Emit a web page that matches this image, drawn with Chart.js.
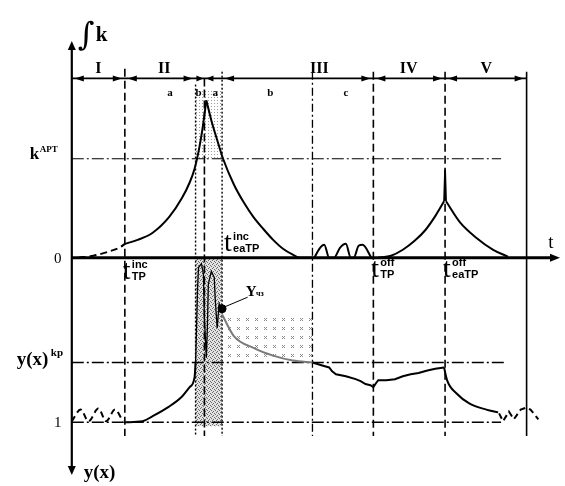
<!DOCTYPE html>
<html>
<head>
<meta charset="utf-8">
<script src="https://cdn.jsdelivr.net/npm/chart.js@4.4.0/dist/chart.umd.min.js"></script>
<style>
  html, body { margin: 0; padding: 0; background: #fff; }
  #wrap { width: 565px; height: 486px; }
</style>
</head>
<body>
<div id="wrap"><canvas id="myChart" width="565" height="486"></canvas></div>
<script>
// stage boundaries on the t axis
const tInc = 1.08, tB = 2.52, tMid = 2.70, tA = 3.06, tC = 4.90, tOff = 6.14, tEaOff = 7.60, tEnd = 9.26;
const kApt = 1;      // k^APT level
const yKp = 0.637;   // y(x)^kp level
const yOne = 1;      // y(x) = 1

// upper curve, integral of k
const kStartT = [0.14, 0.44, 0.74, 1.0, 1.08];
const kStart  = [0, 0.02, 0.06, 0.11, 0.14];
const kRiseT  = [1.08, 1.34, 1.64, 1.98, 2.24, 2.40, 2.50, 2.58, 2.66, 2.74];
const kRise   = [0.14, 0.18, 0.25, 0.41, 0.60, 0.76, 0.90, 1.07, 1.30, 1.59];
const kFallT  = [2.74, 2.84, 2.96, 3.08, 3.30, 3.50, 3.70, 3.90, 4.10, 4.30, 4.50, 4.64, 4.94];
const kFall   = [1.59, 1.39, 1.19, 1.0, 0.74, 0.56, 0.41, 0.29, 0.18, 0.09, 0.03, 0, 0];
const kBumpT  = [4.94, 5.04, 5.14, 5.24, 5.34, 5.46, 5.58, 5.68, 5.74, 5.84, 5.92, 6.10];
const kBump   = [0, 0.09, 0.13, 0, 0, 0.10, 0.14, 0, 0, 0.12, 0.13, 0];
const kOffUpT = [6.24, 6.50, 6.74, 6.98, 7.20, 7.40, 7.58];
const kOffUp  = [0, 0.02, 0.08, 0.17, 0.28, 0.42, 0.57];
const kSpikeT = [7.58, 7.60, 7.62];
const kSpike  = [0.57, 0.89, 0.57];
const kOffDnT = [7.62, 7.90, 8.24, 8.58, 8.88];
const kOffDn  = [0.57, 0.36, 0.20, 0.08, 0.01];

// lower curve, y(x) (axis points down)
const yWaveT  = [0, 0.18, 0.34, 0.54, 0.70, 0.88, 1.04];
const yWave   = [0.994, 0.923, 0.994, 0.917, 0.994, 0.923, 0.994];
const yRiseT  = [1.08, 1.44, 1.64, 1.98, 2.24, 2.40, 2.50, 2.52];
const yRise   = [1.0, 0.994, 0.964, 0.905, 0.845, 0.786, 0.726, 0.637];
const yNoiseT = [2.52, 2.54, 2.56, 2.58, 2.64, 2.68, 2.70, 2.74, 2.76, 2.78, 2.84, 2.90, 2.92, 2.96, 3.00, 3.04];
const yNoise  = [0.637, 0.429, 0.19, 0.06, 0.036, 0.101, 0.369, 0.607, 0.429, 0.161, 0.083, 0.119, 0.25, 0.429, 0.28, 0.31];
const yGreyT  = [3.06, 3.30, 3.70, 4.10, 4.50, 4.90];
const yGrey   = [0.345, 0.476, 0.548, 0.595, 0.625, 0.637];
const yStepT  = [4.90, 5.10, 5.24, 5.30, 5.38, 5.58, 5.78, 5.88, 5.98, 6.08, 6.14, 6.20, 6.24, 6.40, 6.58, 6.74, 6.90, 7.06, 7.24, 7.40, 7.58];
const ySteps  = [0.637, 0.655, 0.667, 0.690, 0.708, 0.720, 0.738, 0.750, 0.768, 0.775, 0.786, 0.760, 0.744, 0.744, 0.738, 0.720, 0.708, 0.700, 0.685, 0.675, 0.667];
const yDropT  = [7.58, 7.64, 7.84, 8.10, 8.44, 8.68];
const yDrop   = [0.667, 0.744, 0.827, 0.887, 0.923, 0.940];
const yTailT  = [8.70, 8.78, 8.90, 9.00, 9.14, 9.24, 9.34, 9.50];
const yTail   = [0.946, 0.994, 0.935, 0.982, 0.923, 0.912, 0.923, 0.982];
const yChzT = 3.06, yChz = 0.31;

// labels
const romanLabels = ['I', 'II', 'III', 'IV', 'V'];
const romanT = [0.54, 1.88, 5.04, 6.86, 8.44];
const subLabels = ['a', 'b', 'a', 'b', 'c'];
const subT = [2.0, 2.58, 2.92, 4.04, 5.58];

function pts(ts, vs) {
    return ts.map((t, i) => ({x: t, y: vs[i]}));
}
function curve(ts, vs, axis, extra) {
    return Object.assign({
        data: pts(ts, vs),
        yAxisID: axis,
        showLine: true,
        borderColor: '#000',
        borderWidth: 2,
        pointRadius: 0,
        tension: 0,
        clip: false
    }, extra || {});
}
const smooth = {cubicInterpolationMode: 'monotone'};

function makePattern(c, size, dots, color, bg) {
    const cv = document.createElement('canvas');
    cv.width = size;
    cv.height = size;
    const g = cv.getContext('2d');
    if (bg) {
        g.fillStyle = bg;
        g.fillRect(0, 0, size, size);
    }
    g.fillStyle = color;
    dots.forEach(d => g.fillRect(d[0], d[1], 1, 1));
    return c.createPattern(cv, 'repeat');
}

function line(c, x1, y1, x2, y2, w, dash, color) {
    c.save();
    c.strokeStyle = color || '#000';
    c.lineWidth = w;
    c.setLineDash(dash || []);
    c.beginPath();
    c.moveTo(x1, y1);
    c.lineTo(x2, y2);
    c.stroke();
    c.restore();
}

function head(c, x, y, dir, len, half) {
    c.beginPath();
    if (dir === 'r') { c.moveTo(x, y); c.lineTo(x - len, y - half); c.lineTo(x - len, y + half); }
    if (dir === 'l') { c.moveTo(x, y); c.lineTo(x + len, y - half); c.lineTo(x + len, y + half); }
    if (dir === 'u') { c.moveTo(x, y); c.lineTo(x - half, y + len); c.lineTo(x + half, y + len); }
    if (dir === 'd') { c.moveTo(x, y); c.lineTo(x - half, y - len); c.lineTo(x + half, y - len); }
    c.closePath();
    c.fill();
}

function txt(c, s, x, y, font, align) {
    c.font = font;
    c.textAlign = align || 'left';
    c.textBaseline = 'alphabetic';
    c.fillText(s, x, y);
}

// t with superscript and subscript
function tLabel(c, x, y, sup, sub) {
    txt(c, 't', x, y, '28px "Liberation Serif"');
    txt(c, sup, x + 9, y - 11, 'bold 11px "Liberation Sans"');
    txt(c, sub, x + 9, y + 1, 'bold 11px "Liberation Sans"');
}

const diagram = {
    id: 'diagram',
    beforeDatasetsDraw(chart) {
        const c = chart.ctx;
        const X = v => chart.scales.x.getPixelForValue(v);
        const K = v => chart.scales.yk.getPixelForValue(v);
        const Y = v => chart.scales.yy.getPixelForValue(v);
        c.save();

        // stippled band in region II b / III a
        c.fillStyle = makePattern(c, 3, [[1, 1]], '#9a9a9a');
        c.fillRect(X(tB), K(1.69), X(tA) - X(tB), K(kApt) - K(1.69));
        c.fillStyle = makePattern(c, 4, [[0, 0], [2, 1], [1, 3], [3, 2]], '#6a6a6a', '#e2e2e2');
        c.fillRect(X(tB), Y(0), X(tA) - X(tB), Y(1.024) - Y(0));

        // dotted hatch area under Y_chz
        c.fillStyle = makePattern(c, 9, [[3, 3], [5, 3], [4, 4], [3, 5], [5, 5]], '#8a8a8a');
        c.fillRect(X(tA), Y(0.357), X(tC) - X(tA), Y(yKp) - Y(0.357));

        // level lines
        const dd = [12, 3, 2, 3];
        line(c, X(0), K(kApt), X(8.74), K(kApt), 1.2, dd);
        line(c, X(0), Y(yKp), X(8.8), Y(yKp), 1.5, dd);
        line(c, X(0), Y(yOne), X(8.74), Y(yOne), 1.5, dd);

        // stage boundaries
        const top = K(1.88), bot = Y(1.083);
        line(c, X(tInc), K(1.91), X(tInc), bot, 1.6, [8, 4]);
        line(c, X(tB), K(1.75), X(tB), bot, 1.4, [2, 2]);
        line(c, X(tMid), K(1.812), X(tMid), bot, 1.6, [8, 3]);
        line(c, X(tA), top, X(tA), bot, 1.4, [2, 2]);
        line(c, X(tC), top, X(tC), bot, 1.3, [8, 3, 2, 3]);
        line(c, X(tOff), top, X(tOff), bot, 1.6, [8, 4]);
        line(c, X(tEaOff), top, X(tEaOff), bot, 1.6, [8, 4]);
        line(c, X(tEnd), top, X(tEnd), bot, 1.6);
        c.restore();
    },
    afterDatasetsDraw(chart) {
        const c = chart.ctx;
        const X = v => chart.scales.x.getPixelForValue(v);
        const K = v => chart.scales.yk.getPixelForValue(v);
        const Y = v => chart.scales.yy.getPixelForValue(v);
        c.save();
        c.fillStyle = '#000';

        // axes
        line(c, X(0), K(2.15), X(0), Y(1.30), 2.2);
        head(c, X(0), K(2.19), 'u', 9, 4);
        head(c, X(0), Y(1.32), 'd', 9, 4);
        line(c, X(0), K(0), X(9.84), K(0), 3);
        head(c, X(9.94), K(0), 'r', 10, 4);

        // stage arrows
        const ay = K(1.812);
        line(c, X(0), ay, X(tEnd), ay, 1.6);
        const segs = [[0, tInc], [tInc, tB], [tA, tOff], [tOff, tEaOff], [tEaOff, tEnd]];
        segs.forEach(s => {
            head(c, X(s[0]) + 3, ay, 'l', 9, 3);
            head(c, X(s[1]) - 3, ay, 'r', 9, 3);
        });
        head(c, X(tMid) - 1, ay, 'r', 7, 3);
        head(c, X(tMid) + 2, ay, 'l', 7, 3);

        romanLabels.forEach((s, i) => txt(c, s, X(romanT[i]), K(1.87), 'bold 16px "Liberation Serif"', 'center'));
        subLabels.forEach((s, i) => txt(c, s, X(subT[i]), K(1.63), 'bold 11px "Liberation Serif"', 'center'));

        // axis captions
        txt(c, '\u222B', X(0) + 6, K(2.15), '32px "DejaVu Serif"');
        txt(c, 'k', X(0) + 24, K(2.19), 'bold 21px "Liberation Serif"');
        txt(c, 't', X(9.7), K(0.1), '19px "Liberation Serif"');
        txt(c, '0', X(0) - 14, K(0) + 5, '15px "Liberation Serif"', 'center');
        txt(c, 'k', X(0) - 42, K(kApt), 'bold 17px "Liberation Serif"');
        txt(c, 'APT', X(0) - 32, K(kApt) - 7, 'bold 9px "Liberation Serif"');
        txt(c, 'y(x)', X(0) - 55, Y(yKp) + 2, 'bold 19px "Liberation Serif"');
        txt(c, 'kp', X(0) - 21, Y(yKp) - 7, 'bold 11px "Liberation Serif"');
        txt(c, '1', X(0) - 14, Y(yOne) + 5, '15px "Liberation Serif"', 'center');
        txt(c, 'y(x)', X(0) + 12, Y(1.34), 'bold 19px "Liberation Serif"');

        tLabel(c, X(tInc) - 2, Y(0.13), 'inc', 'TP');
        tLabel(c, X(tA) + 2, K(0.07), 'inc', 'eaTP');
        tLabel(c, X(tOff) - 2, Y(0.12), 'off', 'TP');
        tLabel(c, X(tEaOff) - 2, Y(0.12), 'off', 'eaTP');

        // Y_chz callout
        line(c, X(yChzT) + 3, Y(yChz) - 2, X(3.58), Y(0.24), 1);
        txt(c, 'Y', X(3.54), Y(0.23), 'bold 15px "Liberation Serif"');
        txt(c, 'чз', X(3.75), Y(0.235), 'bold 8px "Liberation Serif"');
        c.restore();
    }
};

const ctx = document.querySelector('#myChart');
new Chart(ctx, {
    type: 'scatter',
    data: {
        datasets: [
            curve(kStartT, kStart, 'yk', Object.assign({borderDash: [7, 4]}, smooth)),
            curve(kRiseT, kRise, 'yk', smooth),
            curve(kFallT, kFall, 'yk', smooth),
            curve(kBumpT, kBump, 'yk', smooth),
            curve(kOffUpT, kOffUp, 'yk', smooth),
            curve(kSpikeT, kSpike, 'yk', {borderWidth: 1.8}),
            curve(kOffDnT, kOffDn, 'yk', smooth),
            curve(yWaveT, yWave, 'yy', Object.assign({borderDash: [6, 4]}, smooth)),
            curve(yRiseT, yRise, 'yy', smooth),
            curve(yNoiseT, yNoise, 'yy', {borderWidth: 1.3}),
            curve(yGreyT, yGrey, 'yy', Object.assign({borderColor: '#7a7a7a'}, smooth)),
            curve(yStepT, ySteps, 'yy'),
            curve(yDropT, yDrop, 'yy', smooth),
            curve(yTailT, yTail, 'yy', {borderDash: [6, 4]}),
            {
                data: [{x: yChzT, y: yChz}],
                yAxisID: 'yy',
                pointRadius: 4,
                backgroundColor: '#000',
                borderColor: '#000',
                clip: false
            }
        ]
    },
    options: {
        responsive: false,
        animation: false,
        layout: {padding: 0},
        plugins: {
            legend: {display: false},
            tooltip: {enabled: false}
        },
        scales: {
            x: {type: 'linear', display: false, min: -1.36, max: 9.94},
            yk: {type: 'linear', display: false, min: -2.257, max: 2.554},
            yy: {type: 'linear', display: false, min: -1.536, max: 1.357, reverse: true}
        }
    },
    plugins: [diagram]
});
</script>
</body>
</html>
